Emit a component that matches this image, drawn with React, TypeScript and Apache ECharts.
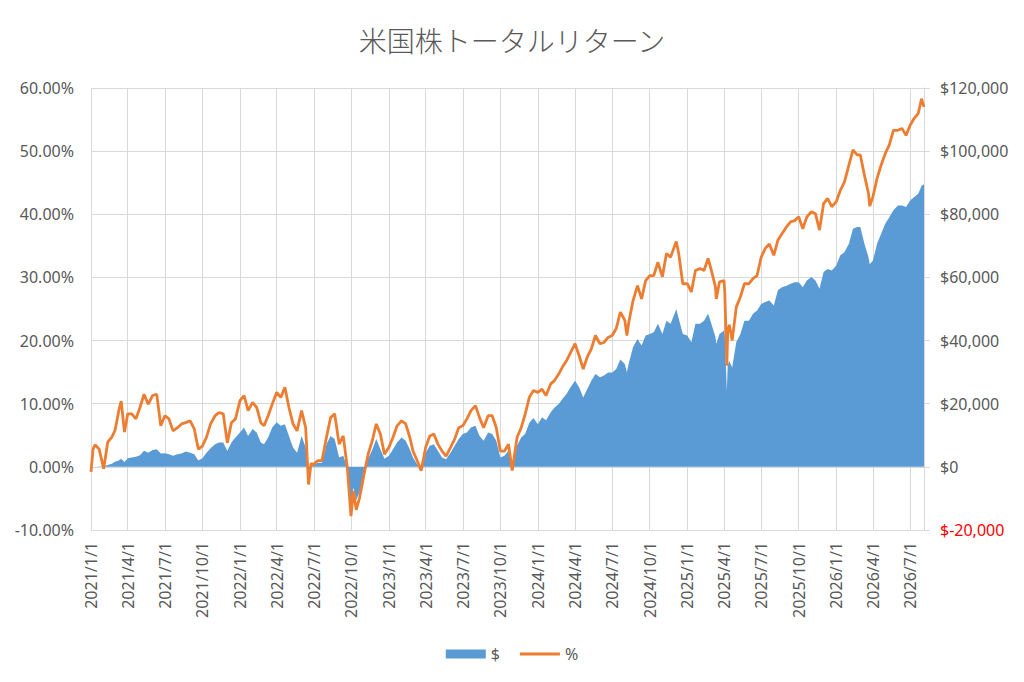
import React, { useEffect, useRef } from "react";
import * as echarts from "echarts";

const TITLE = "米国株トータルリターン";
const NAME_USD = "$";
const NAME_PCT = "%";
const AXIS_START = "2021/1/1";
const AXIS_END = "2026/8/4";
const LABEL_MONTHS = [1, 4, 7, 10];

const sampleDates = [
  "2021/1/1", "2021/1/6", "2021/1/11", "2021/1/21", "2021/2/1", "2021/2/11", "2021/2/21",
  "2021/3/1", "2021/3/11", "2021/3/16", "2021/3/24", "2021/4/1", "2021/4/11", "2021/4/21",
  "2021/5/1", "2021/5/11", "2021/5/21", "2021/6/1", "2021/6/11", "2021/6/21",
  "2021/7/1", "2021/7/11", "2021/7/21", "2021/8/1", "2021/8/11", "2021/8/21",
  "2021/9/1", "2021/9/11", "2021/9/21", "2021/10/1", "2021/10/11", "2021/10/21",
  "2021/11/1", "2021/11/11", "2021/11/21", "2021/12/1", "2021/12/11", "2021/12/21",
  "2022/1/1", "2022/1/11", "2022/1/21", "2022/2/1", "2022/2/11", "2022/2/21",
  "2022/3/1", "2022/3/11", "2022/3/21", "2022/4/1", "2022/4/11", "2022/4/21",
  "2022/5/1", "2022/5/11", "2022/5/21", "2022/6/1", "2022/6/11", "2022/6/18", "2022/6/24",
  "2022/7/1", "2022/7/11", "2022/7/21", "2022/8/1", "2022/8/11", "2022/8/21",
  "2022/9/1", "2022/9/11", "2022/9/21", "2022/9/30", "2022/10/6", "2022/10/13", "2022/10/21",
  "2022/11/1", "2022/11/11", "2022/11/21", "2022/12/1", "2022/12/11", "2022/12/21",
  "2023/1/1", "2023/1/11", "2023/1/21", "2023/2/1", "2023/2/11", "2023/2/21",
  "2023/3/1", "2023/3/11", "2023/3/21", "2023/4/1", "2023/4/11", "2023/4/21",
  "2023/5/1", "2023/5/11", "2023/5/21", "2023/6/1", "2023/6/11", "2023/6/21",
  "2023/7/1", "2023/7/11", "2023/7/21", "2023/8/1", "2023/8/11", "2023/8/21",
  "2023/9/1", "2023/9/11", "2023/9/21", "2023/10/1", "2023/10/11", "2023/10/21", "2023/10/30",
  "2023/11/11", "2023/11/21", "2023/12/1", "2023/12/11", "2023/12/21",
  "2024/1/1", "2024/1/11", "2024/1/21", "2024/2/1", "2024/2/11", "2024/2/21",
  "2024/3/1", "2024/3/11", "2024/3/21", "2024/4/1", "2024/4/11", "2024/4/21",
  "2024/5/1", "2024/5/11", "2024/5/21", "2024/6/1", "2024/6/11", "2024/6/21",
  "2024/7/1", "2024/7/11", "2024/7/21", "2024/8/1", "2024/8/6", "2024/8/11", "2024/8/21",
  "2024/9/1", "2024/9/11", "2024/9/21", "2024/10/1", "2024/10/11", "2024/10/21",
  "2024/11/1", "2024/11/11", "2024/11/21", "2024/12/1", "2024/12/5", "2024/12/11", "2024/12/21",
  "2025/1/1", "2025/1/11", "2025/1/21", "2025/2/1", "2025/2/11", "2025/2/21",
  "2025/3/1", "2025/3/11", "2025/3/13", "2025/3/21", "2025/4/1", "2025/4/3", "2025/4/8",
  "2025/4/10", "2025/4/14", "2025/4/21", "2025/5/1", "2025/5/11", "2025/5/21",
  "2025/6/1", "2025/6/11", "2025/6/21", "2025/7/1", "2025/7/11", "2025/7/21",
  "2025/8/1", "2025/8/11", "2025/8/21", "2025/9/1", "2025/9/11", "2025/9/21",
  "2025/10/1", "2025/10/11", "2025/10/21", "2025/11/1", "2025/11/11", "2025/11/21",
  "2025/12/1", "2025/12/11", "2025/12/21",
  "2026/1/1", "2026/1/11", "2026/1/21", "2026/2/1", "2026/2/11", "2026/2/21",
  "2026/3/1", "2026/3/11", "2026/3/21", "2026/3/24", "2026/4/1", "2026/4/11", "2026/4/21",
  "2026/5/1", "2026/5/11", "2026/5/21", "2026/6/1", "2026/6/11", "2026/6/21",
  "2026/7/1", "2026/7/11", "2026/7/21", "2026/7/29", "2026/8/4",
];

const pctValues = [
  -0.8, 2.8, 3.5, 2.8, -0.3, 3.9, 4.7,
  5.8, 9.2, 10.4, 5.5, 8.4, 8.4, 7.6,
  9.4, 11.5, 9.9, 11.3, 11.5, 6.5,
  8.1, 7.6, 5.7, 6.2, 6.8, 7.0,
  7.3, 6.0, 2.8, 3.3, 4.7, 6.8,
  8.1, 8.6, 8.4, 3.8, 7.0, 7.6,
  10.5, 11.3, 8.9, 10.2, 9.4, 7.0,
  6.5, 8.1, 9.9, 11.8, 11.0, 12.6,
  9.4, 6.8, 5.7, 8.9, 6.2, -2.8, 0.5,
  0.4, 1.0, 1.0, 4.7, 7.8, 8.4,
  3.6, 4.9, -0.1, -7.8, -3.8, -6.8, -4.9,
  -1.2, 2.0, 4.1, 6.8, 5.2, 2.0,
  3.1, 4.7, 6.5, 7.3, 6.8, 4.7,
  2.5, 1.0, -0.6, 3.1, 4.9, 5.2,
  3.6, 2.5, 1.7, 3.1, 4.4, 6.2,
  6.5, 7.6, 8.9, 9.7, 7.8, 6.2,
  8.1, 8.1, 6.2, 2.5, 2.5, 3.6, -0.6,
  4.7, 6.2, 8.4, 11.0, 12.1,
  11.8, 12.3, 11.3, 13.1, 13.7, 14.7,
  15.8, 16.8, 18.1, 19.5, 17.6, 15.5,
  17.4, 18.7, 20.8, 19.5, 19.7, 20.5,
  20.8, 21.9, 24.5, 23.2, 20.8, 23.0, 26.3,
  28.7, 26.6, 29.5, 30.3, 30.3, 32.4,
  30.1, 33.8, 33.2, 35.0, 35.7, 33.8, 29.0,
  29.0, 27.7, 31.1, 31.4, 31.1, 33.0,
  31.1, 28.5, 26.6, 29.3, 29.5, 27.5, 16.0,
  21.5, 22.5, 20.0, 25.3, 26.9, 29.0,
  29.0, 29.8, 30.3, 33.2, 34.6, 35.3,
  33.5, 35.9, 36.9, 38.0, 38.8, 39.0,
  39.6, 37.7, 39.6, 40.4, 40.1, 37.5,
  41.7, 42.5, 41.2,
  42.0, 43.8, 45.1, 47.8, 50.2, 49.4,
  49.4, 46.2, 43.3, 41.3, 42.8, 45.7, 47.8,
  49.6, 51.0, 53.3, 53.3, 53.6, 52.5,
  54.1, 55.2, 56.0, 58.3, 57.0,
];

const usdValues = [
  0, 0, 0, 100, 200, 600, 1000,
  1600, 2100, 2600, 1500, 2750, 3000, 3200,
  3700, 5100, 4500, 5300, 5600, 4200,
  4300, 4000, 3500, 4000, 4200, 4900,
  4500, 4000, 2000, 2750, 4500, 5900,
  7200, 7700, 7700, 5000, 7700, 9300,
  10900, 12500, 9800, 12000, 10900, 7700,
  7200, 9300, 12500, 14100, 13000, 13500,
  9800, 6100, 4500, 9800, 6100, -1500, 600,
  500, 1300, 1300, 7200, 9800, 8800,
  3000, 3500, -200, -12000, -6500, -10500, -8000,
  -3000, 2600, 5300, 8800, 5600, 2600,
  3500, 5600, 7700, 9300, 8300, 5600,
  3000, 800, -200, 4500, 6700, 7200,
  5100, 3000, 2400, 4500, 6700, 8800,
  10400, 10900, 12500, 13000, 9800, 8300,
  10900, 10400, 8300, 3000, 3500, 5100, -300,
  6700, 9300, 10500, 14000, 15500,
  13500, 15700, 14800, 17200, 18800, 19900,
  21500, 23100, 25200, 27300, 25200, 22000,
  24700, 27300, 29400, 28400, 28900, 29900,
  29900, 31000, 34000, 32600, 30000, 33000, 37900,
  40500, 38400, 41600, 42100, 42600, 45300,
  42100, 46300, 45300, 48500, 50000, 47000, 42100,
  41600, 39500, 45300, 45300, 46300, 48500,
  45300, 41100, 39000, 42100, 43200, 41000, 24100,
  32000, 33500, 31500, 39500, 42000, 46300,
  46300, 48500, 49500, 51600, 52200, 52700,
  51100, 55900, 56900, 57400, 58000, 58500,
  58500, 56900, 59000, 60100, 59000, 56400,
  61700, 62700, 62200,
  63800, 67000, 68000, 70700, 75400, 76000,
  76000, 70700, 66400, 64200, 65400, 70700, 73800,
  77000, 79100, 81300, 82800, 82800, 82300,
  84400, 85500, 86500, 89000, 89500,
];

function parseDate(s: string): number {
  const [y, m, d] = s.split("/").map(Number);
  return Date.UTC(y, m - 1, d);
}

function buildCategories(): string[] {
  const out: string[] = [];
  const end = parseDate(AXIS_END);
  const d = new Date(parseDate(AXIS_START));
  while (d.getTime() <= end) {
    out.push(`${d.getUTCFullYear()}/${d.getUTCMonth() + 1}/${d.getUTCDate()}`);
    d.setUTCDate(d.getUTCDate() + 1);
  }
  return out;
}

function isQuarterStart(v: string): boolean {
  const parts = String(v).split("/");
  return parts[2] === "1" && LABEL_MONTHS.includes(Number(parts[1]));
}

const TEXT = "#595959";
const GRID = "#D9D9D9";
const FONT = "Noto Sans";
const BLUE = "#5B9BD5";
const ORANGE = "#ED7D31";

export default function App() {
  const ref = useRef<HTMLDivElement>(null);

  useEffect(() => {
    if (!ref.current) return;
    const chart = echarts.init(ref.current, undefined, { renderer: "svg" });
    const categories = buildCategories();
    const quarterFn = (_i: number, v: string) => isQuarterStart(v);

    chart.setOption({
      animation: false,
      backgroundColor: "#ffffff",
      textStyle: { fontFamily: FONT },
      title: {
        text: TITLE,
        left: "center",
        top: 21,
        textStyle: {
          fontFamily: "Noto Sans CJK JP",
          fontSize: 28,
          fontWeight: 300,
          color: TEXT,
        },
      },
      legend: {
        top: 641,
        left: "center",
        itemWidth: 40,
        itemHeight: 9,
        itemGap: 20,
        textStyle: { fontSize: 16, color: TEXT, fontFamily: FONT },
        data: [
          { name: NAME_USD, icon: "rect", itemStyle: { color: BLUE } },
          {
            name: NAME_PCT,
            icon: "path://M0,0 L40,0 L40,3 L0,3 Z",
            itemStyle: { color: ORANGE },
          },
        ],
      },
      grid: { left: 91, right: 100, top: 88, bottom: 152, containLabel: false },
      xAxis: {
        type: "category",
        data: categories,
        boundaryGap: false,
        axisLine: { show: true, onZero: false, lineStyle: { color: GRID } },
        axisTick: { show: false },
        axisLabel: {
          interval: quarterFn,
          rotate: 90,
          margin: 12,
          fontSize: 16,
          color: TEXT,
          fontFamily: FONT,
        },
        splitLine: { show: true, interval: quarterFn, lineStyle: { color: GRID, width: 1 } },
      },
      yAxis: [
        {
          type: "value",
          position: "left",
          min: -10,
          max: 60,
          interval: 10,
          axisLine: { show: false },
          axisTick: { show: false },
          axisLabel: {
            margin: 17,
            fontSize: 16,
            color: TEXT,
            fontFamily: FONT,
            formatter: (v: number) => `${v.toFixed(2)}%`,
          },
          splitLine: { show: true, lineStyle: { color: GRID, width: 1 } },
        },
        {
          type: "value",
          position: "right",
          min: -20000,
          max: 120000,
          interval: 20000,
          axisLine: { show: true, lineStyle: { color: GRID } },
          axisTick: { show: true, length: 6, lineStyle: { color: GRID } },
          axisLabel: {
            margin: 16,
            fontSize: 16,
            fontFamily: FONT,
            color: (v: any) => (Number(v) < 0 ? "#FF0000" : TEXT),
            formatter: (v: number) =>
              v < 0
                ? `$-${Math.abs(v).toLocaleString("en-US")}`
                : `$${v.toLocaleString("en-US")}`,
          },
          splitLine: { show: false },
        },
      ],
      series: [
        {
          name: NAME_USD,
          type: "line",
          yAxisIndex: 1,
          data: sampleDates.map((d, i) => [d, usdValues[i]]),
          symbol: "none",
          showSymbol: false,
          lineStyle: { width: 0, color: BLUE },
          itemStyle: { color: BLUE },
          areaStyle: { color: BLUE, opacity: 1 },
          z: 1,
        },
        {
          name: NAME_PCT,
          type: "line",
          yAxisIndex: 0,
          data: sampleDates.map((d, i) => [d, pctValues[i]]),
          symbol: "none",
          showSymbol: false,
          lineStyle: { width: 2.8, color: ORANGE },
          itemStyle: { color: ORANGE },
          z: 2,
        },
      ],
    });

    return () => chart.dispose();
  }, []);

  return (
    <div
      ref={ref}
      style={{ position: "absolute", left: 0, top: 0, width: 1024, height: 682, background: "#fff" }}
    />
  );
}
